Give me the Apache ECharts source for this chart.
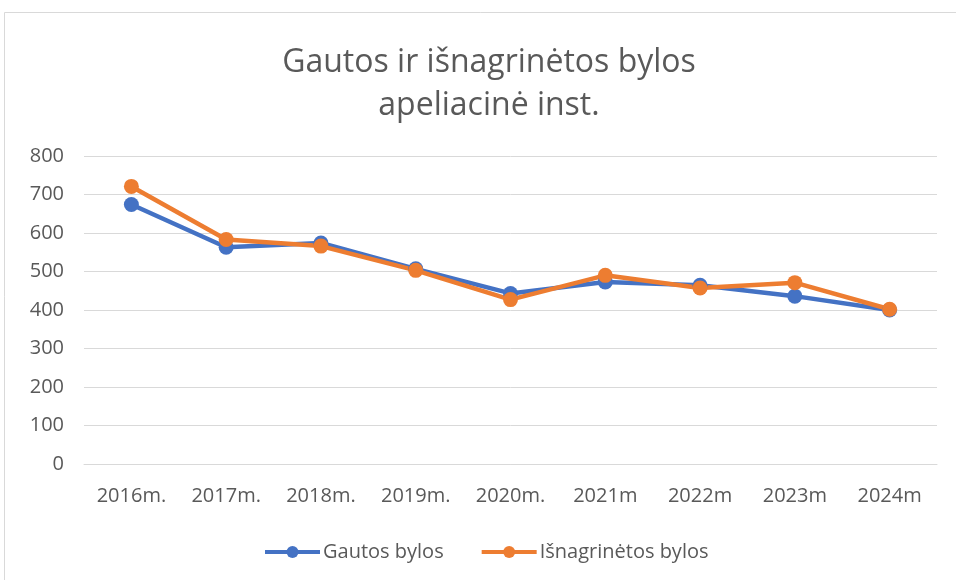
<!DOCTYPE html>
<html>
<head>
<meta charset="utf-8">
<title>Gautos ir išnagrinėtos bylos</title>
<script src="https://cdn.jsdelivr.net/npm/echarts@6/dist/echarts.min.js"></script>
</head>
<body style="margin:0;padding:0;background:#fff;">
<div id="main" style="width:956px;height:580px;"></div>
<script>
var years = ['2016m.', '2017m.', '2018m.', '2019m.', '2020m.', '2021m', '2022m', '2023m', '2024m'];
var gautos = [674, 563, 574, 507, 443, 473, 464, 436, 400];
var isnagrinetos = [721, 583, 566, 503, 427, 490, 457, 471, 402];

var chart = echarts.init(document.getElementById('main'));
var txt = '#595959';

chart.setOption({
    backgroundColor: '#fff',
    animation: false,
    // frame of the original chart area, cut off on the right and bottom
    graphic: [{
        type: 'rect',
        shape: { x: 4.5, y: 12.5, width: 1200, height: 1200 },
        style: { fill: 'none', stroke: '#d9d9d9', lineWidth: 1 },
        silent: true
    }],
    title: {
        text: 'Gautos ir išnagrinėtos bylos\napeliacinė inst.',
        left: 484,
        textAlign: 'center',
        top: 36,
        textStyle: {
            fontFamily: 'Open Sans',
            fontWeight: 'normal',
            fontSize: 32,
            lineHeight: 43,
            color: txt
        }
    },
    legend: {
        top: 537,
        left: 258,
        itemWidth: 55,
        itemHeight: 15,
        itemGap: 36,
        lineStyle: { width: 4 },
        textStyle: { fontFamily: 'Open Sans', fontSize: 20, color: txt, padding: [0, 0, 0, -2] },
        data: ['Gautos bylos', 'Išnagrinėtos bylos']
    },
    grid: { left: 84, right: 19, top: 156, bottom: 116, containLabel: false },
    xAxis: {
        type: 'category',
        data: years,
        boundaryGap: true,
        axisLine: { lineStyle: { color: '#d9d9d9', width: 1 } },
        axisTick: { show: false },
        axisLabel: { fontFamily: 'Open Sans', fontSize: 20, color: txt, margin: 22 }
    },
    yAxis: {
        type: 'value',
        min: 0,
        max: 800,
        interval: 100,
        axisLine: { show: false },
        axisTick: { show: false },
        splitLine: { lineStyle: { color: '#d9d9d9', width: 1 } },
        axisLabel: { fontFamily: 'Open Sans', fontSize: 20, color: txt, margin: 20 }
    },
    series: [{
        name: 'Gautos bylos',
        type: 'line',
        data: gautos,
        symbol: 'circle',
        symbolSize: 15,
        color: '#4472C4',
        lineStyle: { width: 4.5, color: '#4472C4' },
        itemStyle: { color: '#4472C4' }
    }, {
        name: 'Išnagrinėtos bylos',
        type: 'line',
        data: isnagrinetos,
        symbol: 'circle',
        symbolSize: 15,
        color: '#ED7D31',
        lineStyle: { width: 4.5, color: '#ED7D31' },
        itemStyle: { color: '#ED7D31' }
    }]
});
</script>
</body>
</html>
